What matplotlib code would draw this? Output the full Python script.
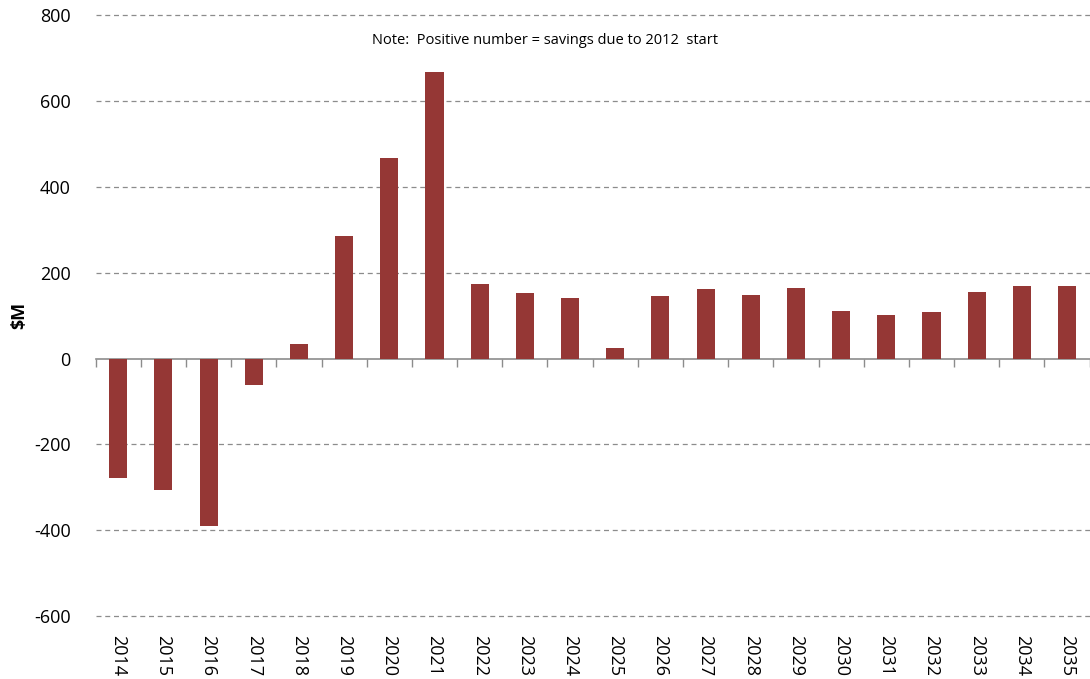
import matplotlib.pyplot as plt
import numpy as np

# Data
years = [str(y) for y in range(2014, 2036)]
savings = [-279, -306, -390, -61, 35, 285, 467, 667, 174, 153, 141, 25,
           146, 161, 149, 165, 111, 101, 109, 156, 170, 170]
y_ticks = [-600, -400, -200, 0, 200, 400, 600, 800]

BAR_COLOR = '#953735'
GRID_COLOR = '#8c8c8c'

plt.rcParams['font.family'] = ['Open Sans', 'DejaVu Sans']

fig = plt.figure(figsize=(10.9, 6.79), dpi=100)
ax = fig.add_axes([0.0877, 0.0928, 0.9120, 0.8847])

x = np.arange(len(years))
ax.bar(x, savings, width=0.4, color=BAR_COLOR, zorder=3)

ax.set_xlim(-0.5, len(years) - 0.5)
ax.set_ylim(-600, 800)
ax.set_yticks(y_ticks)
ax.set_yticklabels([str(v) for v in y_ticks], fontsize=13)
ax.tick_params(axis='y', length=0, pad=18)

# dashed grid lines except at zero
for v in y_ticks:
    if v != 0:
        ax.axhline(v, color=GRID_COLOR, lw=0.9, ls=(0, (4, 3)), zorder=1,
                   clip_on=False)

for s in ax.spines.values():
    s.set_visible(False)

# year labels at the bottom of the plot area
ax.set_xticks(x)
ax.set_xticklabels(years, rotation=270, fontsize=13)
ax.tick_params(axis='x', length=0, pad=14)

# zero axis line with boundary ticks
sec = ax.secondary_xaxis(600 / 1400)
sec.set_xticks(np.arange(-0.5, len(years), 1.0))
sec.set_xticklabels([])
sec.tick_params(axis='x', length=6, width=1, color=GRID_COLOR, direction='out')
sec.spines['bottom'].set_color(GRID_COLOR)
sec.spines['bottom'].set_linewidth(1.2)

ax.set_ylabel('$M', fontsize=13, fontweight='bold')
ax.yaxis.set_label_coords(-0.068, 0.5)

fig.text(0.5, 0.94, 'Note:  Positive number = savings due to 2012  start',
         ha='center', va='center', fontsize=10.5)

plt.savefig('out.png', dpi=100)
